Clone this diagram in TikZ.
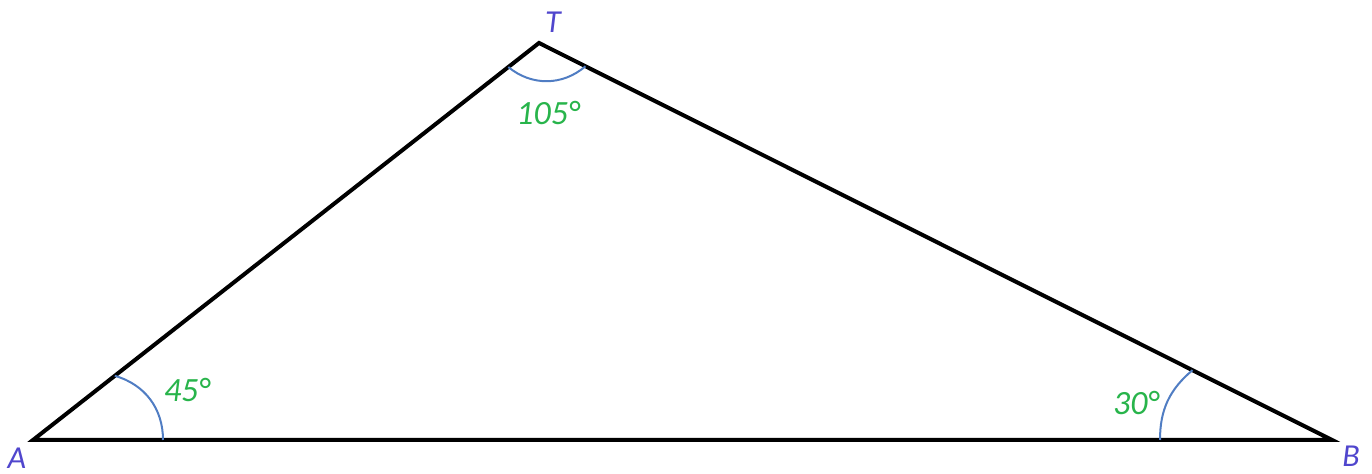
\documentclass[tikz,border=0pt]{standalone}
\usepackage{fontspec}
\setmainfont{Carlito}
\usetikzlibrary{calc}
\definecolor{ptblue}{RGB}{80,70,205}
\definecolor{anggreen}{RGB}{40,180,75}
\definecolor{arcblue}{RGB}{80,125,195}

\begin{document}
\begin{tikzpicture}[x=0.5pt,y=0.5pt,
    side/.style={line width=2pt,line join=miter},
    angarc/.style={arcblue,line width=1pt},
    ptlabel/.style={text=ptblue,font=\fontsize{16}{19}\selectfont\itshape,inner sep=0pt},
    anglabel/.style={text=anggreen,font=\fontsize{17}{20}\selectfont\itshape,inner sep=0pt}]
  \useasboundingbox (0,0) rectangle (1372,474);
  \coordinate (A) at (33,34);
  \coordinate (B) at (1332,34);
  \coordinate (T) at (539,431);
  \draw[side] (A) -- (B) -- (T) -- cycle;
  % angle arcs
  \draw[angarc] ($(A)!65pt!(B)$) to[bend right=37] ($(A)!52pt!(T)$);
  \draw[angarc] ($(T)!19.5pt!(A)$) to[bend right=40] ($(T)!26pt!(B)$);
  \draw[angarc] ($(B)!86pt!(A)$) to[bend left=25] ($(B)!78pt!(T)$);
  % labels
  \node[ptlabel] (lA) at (17,16) {A};
  \node[ptlabel] (lB) at (1351,18) {B};
  \node[ptlabel] (lT) at (553,452) {T};
  \node[anglabel] (a45) at (187,84) {45°};
  \node[anglabel] (a105) at (548,361) {105°};
  \node[anglabel] (a30) at (1136,71) {30°};
\end{tikzpicture}
\end{document}
